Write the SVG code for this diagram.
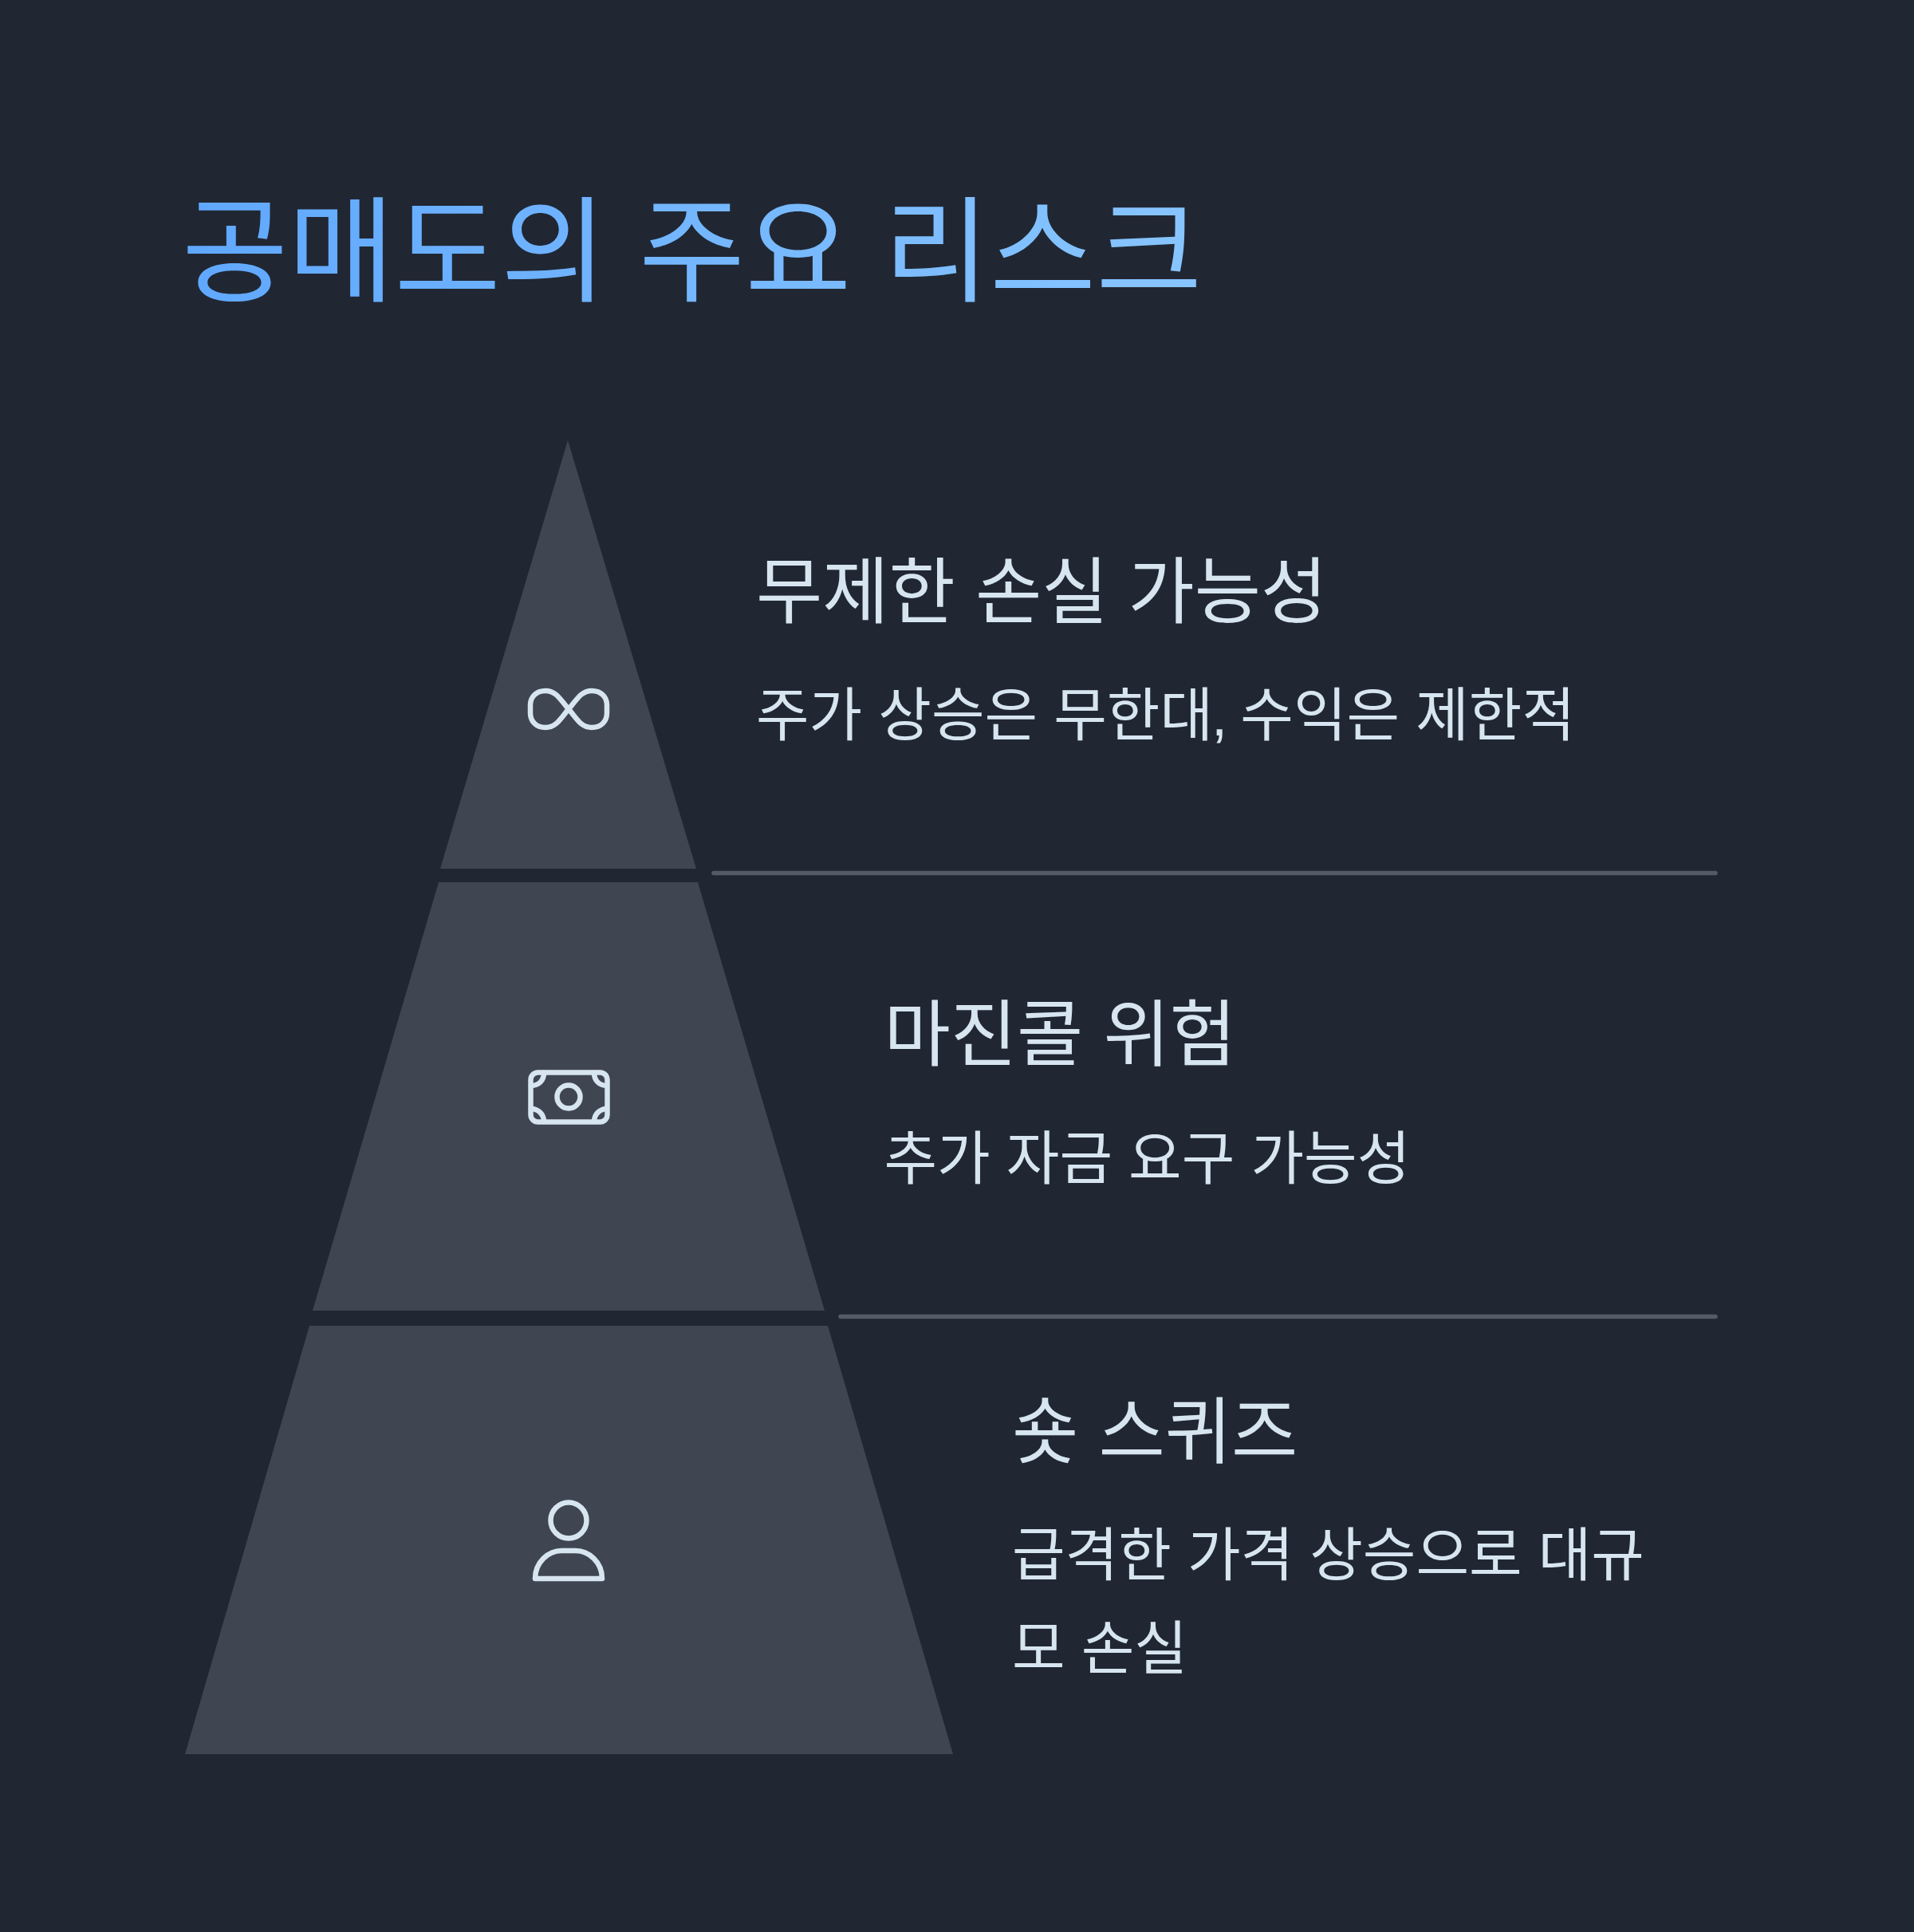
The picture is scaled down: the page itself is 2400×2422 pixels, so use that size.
<svg xmlns="http://www.w3.org/2000/svg" width="2400" height="2422" viewBox="0 0 2400 2422">
<style>
text{font-family:"Liberation Sans","Noto Sans CJK KR",sans-serif}
.tier{fill:#3f4652}
.h{font-size:90.5px;fill:#d7e5f1}
.b{font-size:72.4px;fill:#d7e5f1}
.i{fill:none;stroke:#d7e5f1;stroke-width:6.5;stroke-linecap:round;stroke-linejoin:round}
.d{fill:none;stroke:#545b68;stroke-width:5.5;stroke-linecap:round}
</style>
<defs><linearGradient id="g" gradientUnits="userSpaceOnUse" x1="232" y1="0" x2="1502" y2="0"><stop offset="0" stop-color="#60a8ff"/><stop offset="1" stop-color="#88c5ff"/></linearGradient></defs>
<rect width="2400" height="2422" fill="#202733"/>
<text id="title" x="228" y="367" font-size="144.8" fill="url(#g)">공매도의 주요 리스크</text>
<g id="connectors">
<line class="d" x1="895" y1="1094.5" x2="2151" y2="1094.5"/>
<line class="d" x1="1054" y1="1650.5" x2="2151" y2="1650.5"/>
</g>
<g id="tier1">
<polygon class="tier" points="712,552 873,1089 552,1089"/>
<path class="i" d="M713 889C703 878 698 866 684 866C672 866 665 874 665 884V894C665 904 672 912 684 912C698 912 703 900 713 889C723 878 728 866 742 866C754 866 761 874 761 884V894C761 904 754 912 742 912C728 912 723 900 713 889Z"/>
<text class="h" x="948" y="774">무제한 손실 가능성</text>
<text class="b" x="948" y="922">주가 상승은 무한대<tspan dx="-2">,</tspan> <tspan dx="-4">수익은 제한적</tspan></text>
</g>
<g id="tier2">
<polygon class="tier" points="550,1106 875,1106 1034,1643 392,1643"/>
<rect class="i" x="665.5" y="1344.5" width="96" height="62" rx="9"/>
<circle class="i" cx="713" cy="1375" r="14.5"/>
<path class="i" d="M682 1345C682 1355 675 1361 666 1361M745 1345C745 1355 752 1361 761 1361M666 1390C675 1390 682 1397 682 1406M761 1390C752 1390 745 1397 745 1406"/>
<text class="h" x="1108.5" y="1329">마진콜 위험</text>
<text class="b" x="1108.5" y="1478">추가 자금 요구 가능성</text>
</g>
<g id="tier3">
<polygon class="tier" points="388,1662 1038,1662 1195,2199 232,2199"/>
<circle class="i" cx="713" cy="1906" r="22.5"/>
<path class="i" d="M671 1979H755C755 1958 738 1944 722 1944H704C688 1944 671 1958 671 1979Z"/>
<text class="h" x="1269" y="1827">숏 스퀴즈</text>
<text class="b" x="1269" y="1975">급격한 가격 상승으로 대규</text>
<text class="b" x="1269" y="2092">모 손실</text>
</g>
</svg>
